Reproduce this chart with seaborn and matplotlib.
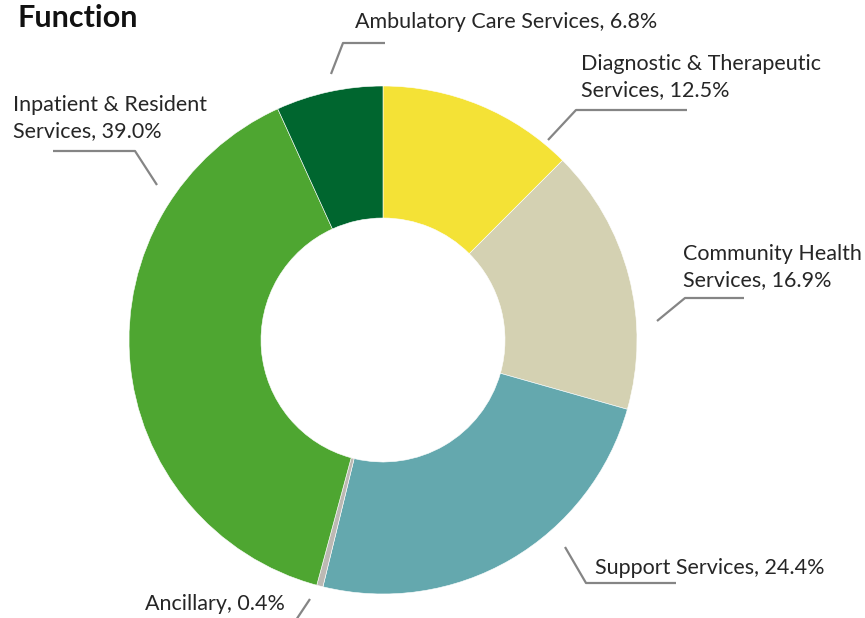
import matplotlib
matplotlib.use("Agg")
import matplotlib.pyplot as plt
import seaborn as sns

sns.set_style("white")
plt.rcParams["font.family"] = ["Lato", "DejaVu Sans"]

# data, clockwise from 12 o'clock
categories = [
    "Diagnostic & Therapeutic\nServices",
    "Community Health\nServices",
    "Support Services",
    "Ancillary",
    "Inpatient & Resident\nServices",
    "Ambulatory Care Services",
]
shares = [12.5, 16.9, 24.4, 0.4, 39.0, 6.8]
colors = ["#F4E236", "#D4D1B2", "#64A8AE", "#BDB9B4", "#4EA631", "#00662F"]

W, H = 865, 618
fig = plt.figure(figsize=(W / 100, H / 100), dpi=100)
ax = fig.add_axes([0, 0, 1, 1])


def py(y):
    # pixel row -> data y
    return H - y


ax.pie(
    shares,
    colors=colors,
    startangle=90,
    counterclock=False,
    center=(383, py(340)),
    radius=254,
    wedgeprops=dict(width=132, edgecolor="white", linewidth=0.4),
)
ax.set_xlim(0, W)
ax.set_ylim(0, H)
ax.set_aspect("equal")
ax.axis("off")

# label placement: (text x, text center y, leader polyline)
label_pos = [
    (581, 77, [(548, 140), (576, 110), (687, 110)]),
    (683, 267, [(657, 321), (685, 298), (744, 298)]),
    (595, 568, [(565, 547), (586, 583), (676, 583)]),
    (145, 604, [(310, 599), (296, 620)]),
    (13, 118, [(157, 185), (135, 151), (53, 151)]),
    (355, 22, [(331, 74), (343, 43), (385, 43)]),
]

for name, val, (tx, ty, pts) in zip(categories, shares, label_pos):
    xs = [p[0] for p in pts]
    ys = [py(p[1]) for p in pts]
    ax.plot(xs, ys, color="#858585", lw=1.6, solid_capstyle="butt")
    ax.text(tx, py(ty), f"{name}, {val:.1f}%", ha="left", va="center",
            fontsize=15.5, color="#262626", linespacing=1.42)

ax.text(18, py(18), "Function", ha="left", va="center",
        fontsize=22, fontweight="bold", color="#111111")

fig.savefig("out.png", dpi=100)
